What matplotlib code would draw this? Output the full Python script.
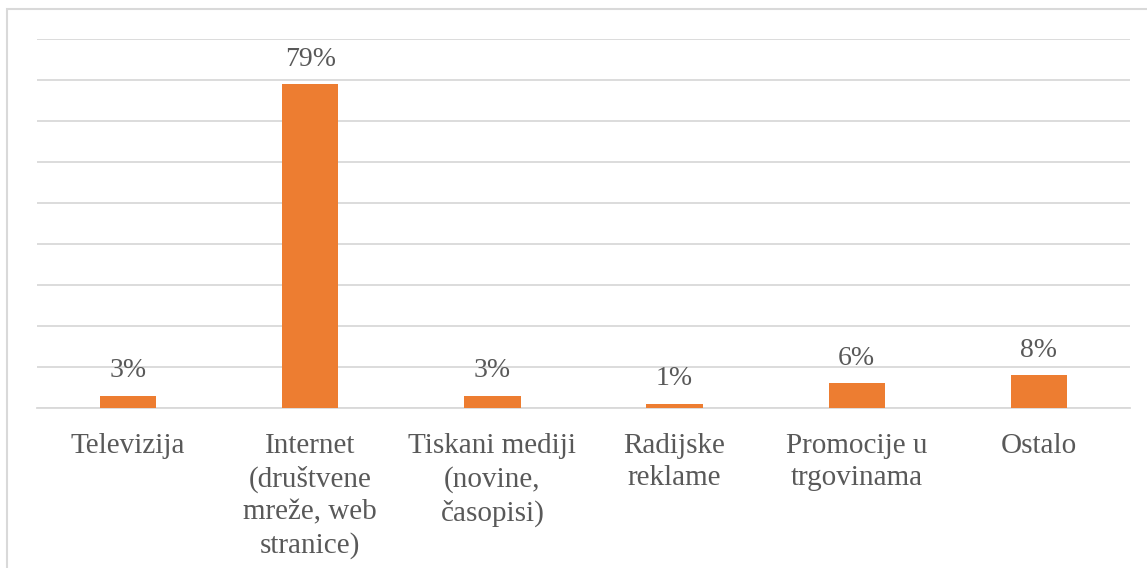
import matplotlib.pyplot as plt
from matplotlib.patches import Rectangle
import numpy as np

# chart data
categories = ['Televizija', 'Internet\n(društvene\nmreže, web\nstranice)',
              'Tiskani mediji\n(novine,\nčasopisi)',
              'Radijske\nreklame', 'Promocije u\ntrgovinama', 'Ostalo']
values = [3, 79, 3, 1, 6, 8]

bar_color = '#ED7D31'
text_color = '#595959'
grid_color = '#D9D9D9'

plt.rcParams['font.family'] = ['Liberation Serif', 'DejaVu Serif']

fig = plt.figure(figsize=(11.47, 5.68), dpi=100)
ax = fig.add_axes([37 / 1147, 160 / 568, 1093 / 1147, 369 / 568])

x = np.arange(len(categories))
bars = ax.bar(x, values, width=0.31, color=bar_color, zorder=3)

# data labels
for rect, v in zip(bars, values):
    ax.annotate(f'{v}%', (rect.get_x() + rect.get_width() / 2, rect.get_height()),
                xytext=(0, 9), textcoords='offset points',
                ha='center', va='bottom', fontsize=20, color=text_color)

ax.set_xlim(-0.5, len(categories) - 0.5)
ax.set_ylim(0, 90)
ax.set_yticks(np.arange(0, 91, 10))
ax.yaxis.grid(True, color=grid_color, linewidth=1.3, zorder=0)
ax.tick_params(axis='y', left=False, labelleft=False)
ax.tick_params(axis='x', length=0, pad=18)
ax.set_xticks(x)
ax.set_xticklabels(categories, fontsize=21, color=text_color, linespacing=1.32)
for spine in ['top', 'right', 'left']:
    ax.spines[spine].set_visible(False)
ax.spines['bottom'].set_color(grid_color)
ax.spines['bottom'].set_linewidth(1.3)

# light chart border
fig.patches.append(Rectangle((7 / 1147, -0.05), 1.1, (568 - 9) / 568 + 0.05,
                             transform=fig.transFigure, fill=False,
                             edgecolor=grid_color, linewidth=1.5))

fig.savefig('out.png', dpi=100)
